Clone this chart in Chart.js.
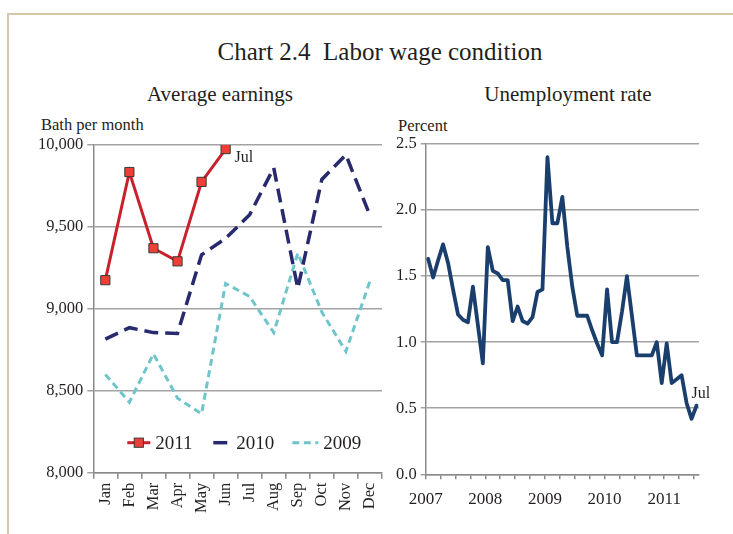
<!DOCTYPE html>
<html lang="en">
<head>
<meta charset="UTF-8">
<title>Chart 2.4 Labor wage condition</title>
<style>
  html, body { margin: 0; padding: 0; background: #fff; }
  body {
    width: 733px; height: 534px; position: relative; overflow: hidden;
    font-family: "Liberation Serif", "Times New Roman", serif; color: #231f20;
  }
  .frame {
    position: absolute; left: 7px; top: 13px; width: 740px; height: 540px;
    border-top: 2px solid #d4c8a8; border-left: 2px solid #d4c8a8;
  }
  .txt { position: absolute; white-space: pre; line-height: 1; }
  .center { transform: translateX(-50%); }
  canvas { position: absolute; left: 0; top: 0; }
</style>
</head>
<body>
  <div class="frame"></div>
  <div class="txt center" style="left:380px; top:39px; font-size:25px;">Chart 2.4  Labor wage condition</div>
  <div class="txt center" style="left:220px; top:84px; font-size:21px;">Average earnings</div>
  <div class="txt center" style="left:568px; top:84px; font-size:21px;">Unemployment rate</div>
  <div class="txt" style="left:41px; top:117px; font-size:16.5px;">Bath per month</div>
  <div class="txt" style="left:398px; top:118px; font-size:16.5px;">Percent</div>

  <canvas id="earningsChart" width="733" height="534"></canvas>
  <canvas id="unemploymentChart" width="733" height="534"></canvas>

  <script src="https://cdn.jsdelivr.net/npm/chart.js@4.4.0/dist/chart.umd.min.js"></script>
  <script>
    // Average earnings (baht per month)
    const months = ['Jan', 'Feb', 'Mar', 'Apr', 'May', 'Jun', 'Jul', 'Aug', 'Sep', 'Oct', 'Nov', 'Dec'];
    const earnings2011 = [9175, 9835, 9370, 9290, 9775, 9975];
    const earnings2010 = [8815, 8885, 8855, 8850, 9330, 9430, 9575, 9860, 9125, 9790, 9940, 9570];
    const earnings2009 = [8600, 8430, 8725, 8455, 8360, 9155, 9075, 8855, 9340, 8980, 8740, 9170];

    // Unemployment rate (percent), monthly Jan 2007 - Jul 2011
    const years = ['2007', '2008', '2009', '2010', '2011'];
    const unemployment = [
      1.63, 1.49, 1.62, 1.74, 1.60, 1.40, 1.21, 1.17, 1.15, 1.42, 1.13, 0.84,
      1.72, 1.54, 1.52, 1.47, 1.47, 1.16, 1.27, 1.16, 1.14, 1.19, 1.38, 1.40,
      2.40, 1.90, 1.90, 2.10, 1.72, 1.42, 1.20, 1.20, 1.20, 1.09, 0.99, 0.90,
      1.40, 1.00, 1.00, 1.23, 1.50, 1.20, 0.90, 0.90, 0.90, 0.90, 1.00, 0.69,
      0.99, 0.69, 0.72, 0.75, 0.54, 0.42, 0.52
    ];
    const lastMonthLabel = 'Jul';

    const FONT = '"Liberation Serif", "Times New Roman", serif';
    Chart.defaults.font.family = FONT;
    Chart.defaults.color = '#231f20';

    const gridColor = '#a3a3a3';
    const axisColor = '#8a8a8a';

    // writes a short text next to the last point of a dataset
    const endLabel = {
      id: 'endLabel',
      afterDatasetsDraw(chart, args, opts) {
        const meta = chart.getDatasetMeta(opts.datasetIndex);
        const pt = meta.data[meta.data.length - 1];
        const ctx = chart.ctx;
        ctx.save();
        ctx.font = '16px ' + FONT;
        ctx.fillStyle = '#231f20';
        ctx.textBaseline = 'alphabetic';
        ctx.fillText(opts.text, pt.x + opts.dx, pt.y + opts.dy);
        ctx.restore();
      }
    };

    // legend drawn inside the plot area, like the original
    const innerLegend = {
      id: 'innerLegend',
      afterDraw(chart, args, opts) {
        const ctx = chart.ctx;
        const area = chart.chartArea;
        const y = area.bottom + opts.dy;
        ctx.save();
        ctx.font = '19px ' + FONT;
        ctx.textBaseline = 'middle';
        chart.data.datasets.forEach((ds, i) => {
          const item = opts.items[i];
          const x0 = area.left + item.line;
          const x1 = area.left + item.text - 5;
          ctx.strokeStyle = ds.borderColor;
          ctx.lineWidth = ds.borderWidth;
          ctx.setLineDash(ds.borderDash || []);
          ctx.beginPath();
          ctx.moveTo(x0, y);
          ctx.lineTo(x1, y);
          ctx.stroke();
          ctx.setLineDash([]);
          if (ds.pointRadius > 0) {
            const s = ds.pointRadius * Math.SQRT1_2;
            const cx = (x0 + x1) / 2;
            ctx.fillStyle = ds.pointBackgroundColor;
            ctx.strokeStyle = ds.pointBorderColor;
            ctx.lineWidth = ds.pointBorderWidth;
            ctx.fillRect(cx - s, y - s, 2 * s, 2 * s);
            ctx.strokeRect(cx - s, y - s, 2 * s, 2 * s);
          }
          ctx.fillStyle = '#231f20';
          ctx.fillText(ds.label, area.left + item.text, y + 1);
        });
        ctx.restore();
      }
    };

    new Chart(document.getElementById('earningsChart'), {
      type: 'line',
      data: {
        labels: months,
        datasets: [
          {
            label: '2011',
            data: earnings2011,
            borderColor: '#c9212b',
            borderWidth: 3,
            pointStyle: 'rect',
            pointRadius: 6.5,
            pointBackgroundColor: '#ef3e36',
            pointBorderColor: '#3a3a3a',
            pointBorderWidth: 1,
            tension: 0
          },
          {
            label: '2010',
            data: earnings2010,
            borderColor: '#272a6c',
            borderWidth: 3.5,
            borderDash: [14, 7],
            pointRadius: 0,
            tension: 0
          },
          {
            label: '2009',
            data: earnings2009,
            borderColor: '#6fc5ca',
            borderWidth: 3,
            borderDash: [7, 4.5],
            pointRadius: 0,
            tension: 0
          }
        ]
      },
      options: {
        responsive: false,
        animation: false,
        layout: { padding: { left: 0, right: 351, top: 145, bottom: 0 } },
        scales: {
          x: {
            type: 'category',
            offset: true,
            grid: { offset: true, drawOnChartArea: false, tickLength: 6, color: axisColor, lineWidth: 1.5 },
            border: { color: axisColor, width: 1.5 },
            ticks: { minRotation: 90, maxRotation: 90, padding: 4, autoSkip: false, font: { size: 16.5 } },
            afterFit: (scale) => { scale.height = 61.3; }
          },
          y: {
            min: 8000,
            max: 10000,
            ticks: { stepSize: 500, padding: 4, font: { size: 16.5 },
              callback: (v) => v.toLocaleString('en-US') },
            grid: { color: gridColor, lineWidth: 1.5, tickLength: 6 },
            border: { color: axisColor, width: 1.5 },
            afterFit: (scale) => { scale.width = 93.3; }
          }
        },
        plugins: {
          legend: { display: false },
          tooltip: { enabled: false },
          endLabel: { datasetIndex: 0, text: lastMonthLabel, dx: 9, dy: 13 },
          innerLegend: {
            dy: -30,
            items: [{ line: 34, text: 62 }, { line: 120, text: 143 }, { line: 199, text: 230 }]
          }
        }
      },
      plugins: [endLabel, innerLegend]
    });

    // quarterly tick marks, a year label every 12 months
    const quarterTicks = [];
    for (let v = -0.5; v < unemployment.length - 1; v += 3) quarterTicks.push(v);

    new Chart(document.getElementById('unemploymentChart'), {
      type: 'line',
      data: {
        datasets: [{
          label: 'Unemployment rate',
          data: unemployment.map((v, i) => ({ x: i, y: v })),
          borderColor: '#1b3f6d',
          borderWidth: 3.8,
          borderJoinStyle: 'round',
          borderCapStyle: 'round',
          pointRadius: 0,
          tension: 0
        }]
      },
      options: {
        responsive: false,
        animation: false,
        layout: { padding: { left: 385.7, right: 34, top: 144, bottom: 0 } },
        scales: {
          x: {
            type: 'linear',
            min: -0.5,
            max: unemployment.length - 0.5,
            afterBuildTicks: (scale) => { scale.ticks = quarterTicks.map(v => ({ value: v })); },
            ticks: {
              autoSkip: false, maxRotation: 0, padding: 10, font: { size: 17 },
              callback: (v) => ((v + 0.5) % 12 === 0 ? years[(v + 0.5) / 12] : '')
            },
            grid: { drawOnChartArea: false, tickLength: 5, color: axisColor, lineWidth: 1.5 },
            border: { color: axisColor, width: 1.5 },
            afterFit: (scale) => { scale.height = 59.7; }
          },
          y: {
            min: 0,
            max: 2.5,
            ticks: { stepSize: 0.5, padding: 4, font: { size: 16.5 }, callback: (v) => v.toFixed(1) },
            grid: { color: gridColor, lineWidth: 1.5, tickLength: 5 },
            border: { color: axisColor, width: 1.5 },
            afterFit: (scale) => { scale.width = 40; }
          }
        },
        plugins: {
          legend: { display: false },
          tooltip: { enabled: false },
          endLabel: { datasetIndex: 0, text: lastMonthLabel, dx: -5, dy: -8 }
        }
      },
      plugins: [endLabel]
    });
  </script>
</body>
</html>
